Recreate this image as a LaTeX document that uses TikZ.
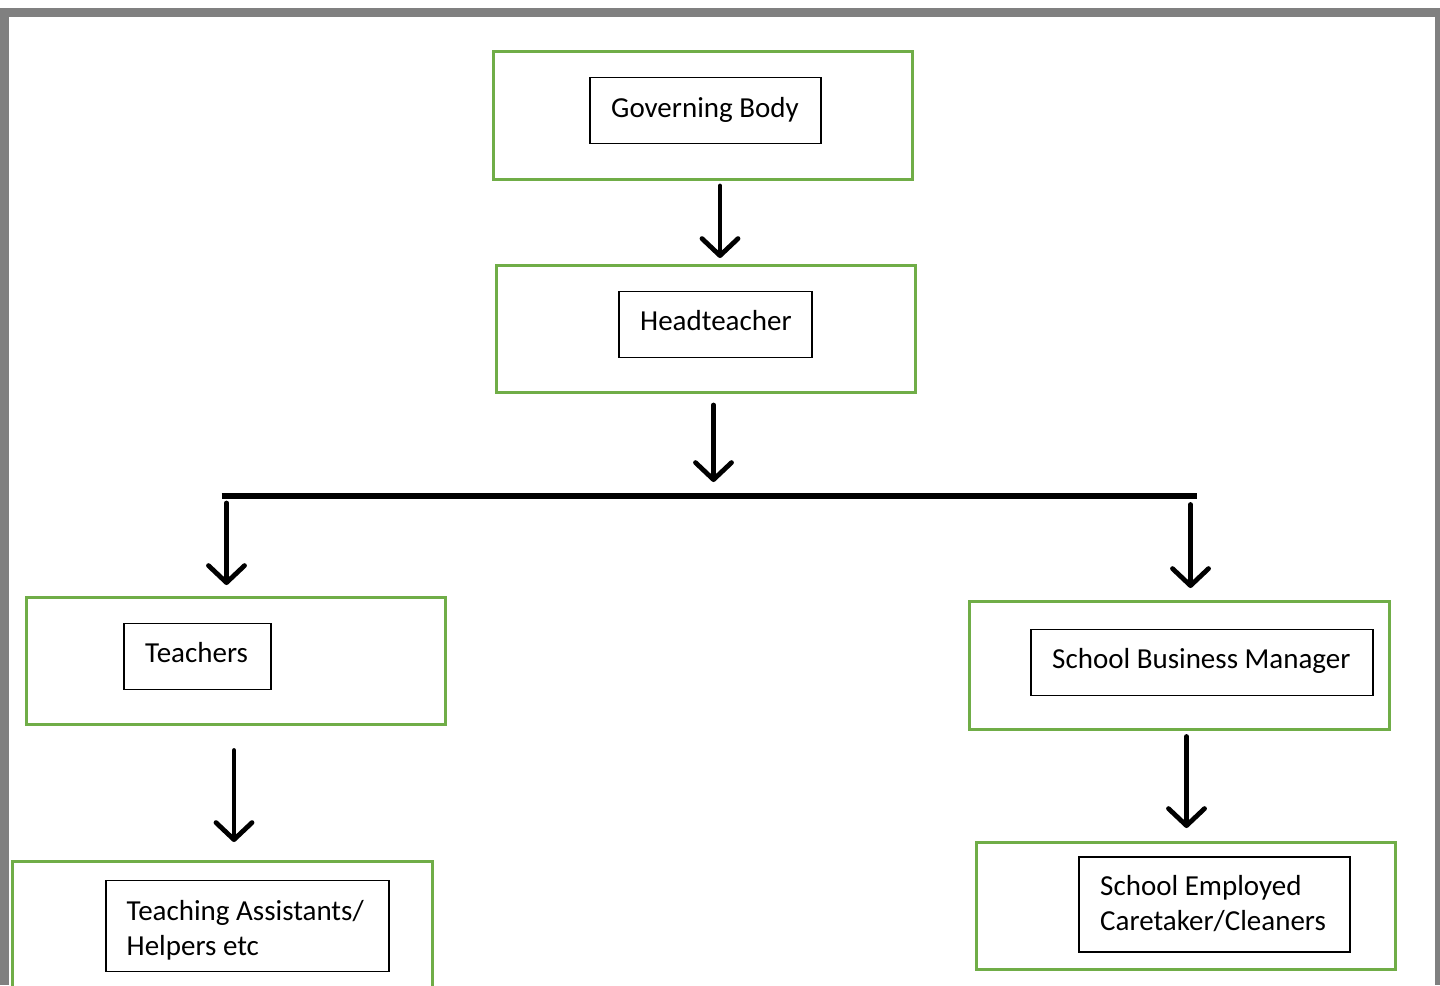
\documentclass[tikz,border=0pt]{standalone}
\usepackage{fontspec}
\setmainfont{Carlito}
\usetikzlibrary{arrows.meta}
\definecolor{grn}{HTML}{70AD47}
\definecolor{frame}{HTML}{808080}
\tikzset{
  outerbox/.style={draw=grn, line width=3pt, inner sep=0pt, outer sep=0pt, anchor=north west},
  innerbox/.style={draw=black, line width=1.3pt, inner sep=0pt, outer sep=0pt, anchor=north west},
  lbl/.style={inner sep=0pt, anchor=base west, font=\fontsize{29}{35}\selectfont},
  arr/.style={line width=4.8pt, line cap=round,
    -{Straight Barb[length=17pt, width=36pt, line cap=round, line join=round]}},
  bar/.style={line width=6pt}
}
\begin{document}
\begin{tikzpicture}[x=1pt, y=-1pt]
\useasboundingbox (0,0) rectangle (1440,985);
\fill[white] (0,0) rectangle (1440,985);
% page frame
\fill[frame] (0,8) rectangle (1440,17);
\fill[frame] (0,8) rectangle (8.7,985);
\fill[frame] (1435,8) rectangle (1440,985);

% Governing Body
\node[outerbox, minimum width=419pt, minimum height=128pt] (gbo) at (493,51) {};
\node[innerbox, minimum width=231pt, minimum height=66pt] (gbi) at (590,77.5) {};
\node[lbl] (gbt) at (611,117) {Governing Body};

% Headteacher
\node[outerbox, minimum width=419pt, minimum height=127pt] (hto) at (496,265) {};
\node[innerbox, minimum width=193pt, minimum height=66pt] (hti) at (619,291.5) {};
\node[lbl] (htt) at (640,330) {Headteacher};

% Teachers
\node[outerbox, minimum width=419pt, minimum height=127pt] (teo) at (26,597.5) {};
\node[innerbox, minimum width=147pt, minimum height=66pt] (tei) at (124,623.5) {};
\node[lbl] (tet) at (145,662) {Teachers};

% Teaching Assistants
\node[outerbox, minimum width=420pt, minimum height=140pt] (tao) at (12,861) {};
\node[innerbox, minimum width=283pt, minimum height=91pt] (tai) at (106,880.5) {};
\node[lbl] (tat1) at (126.5,920) {Teaching Assistants/};
\node[lbl] (tat2) at (126.5,955) {Helpers etc};

% School Business Manager
\node[outerbox, minimum width=420pt, minimum height=128pt] (sbo) at (969.5,601.5) {};
\node[innerbox, minimum width=342pt, minimum height=66pt] (sbi) at (1031,629.5) {};
\node[lbl] (sbt) at (1052,668) {School Business Manager};

% School Employed Caretaker/Cleaners
\node[outerbox, minimum width=419pt, minimum height=127pt] (seo) at (976.5,842) {};
\node[innerbox, minimum width=271pt, minimum height=95pt] (sei) at (1079,857) {};
\node[lbl] (set1) at (1100,895) {School Employed};
\node[lbl] (set2) at (1100,930.5) {Caretaker/Cleaners};

% horizontal distribution bar
\coordinate (bl) at (221.5,495.7);
\coordinate (br) at (1196.7,495.7);
\draw[bar] (bl) -- (br);

% arrows
\coordinate (a1s) at (720,186); \coordinate (a1e) at (720,258);
\coordinate (a2s) at (713.5,405); \coordinate (a2e) at (713.5,482);
\coordinate (a3s) at (226.5,503); \coordinate (a3e) at (226.5,585);
\coordinate (a4s) at (1190.5,504.5); \coordinate (a4e) at (1190.5,588);
\coordinate (a5s) at (234,750.5); \coordinate (a5e) at (234,842);
\coordinate (a6s) at (1186.5,736.5); \coordinate (a6e) at (1186.5,828);
\draw[arr] (a1s) -- (a1e);
\draw[arr] (a2s) -- (a2e);
\draw[arr] (a3s) -- (a3e);
\draw[arr] (a4s) -- (a4e);
\draw[arr] (a5s) -- (a5e);
\draw[arr] (a6s) -- (a6e);
\end{tikzpicture}
\end{document}
